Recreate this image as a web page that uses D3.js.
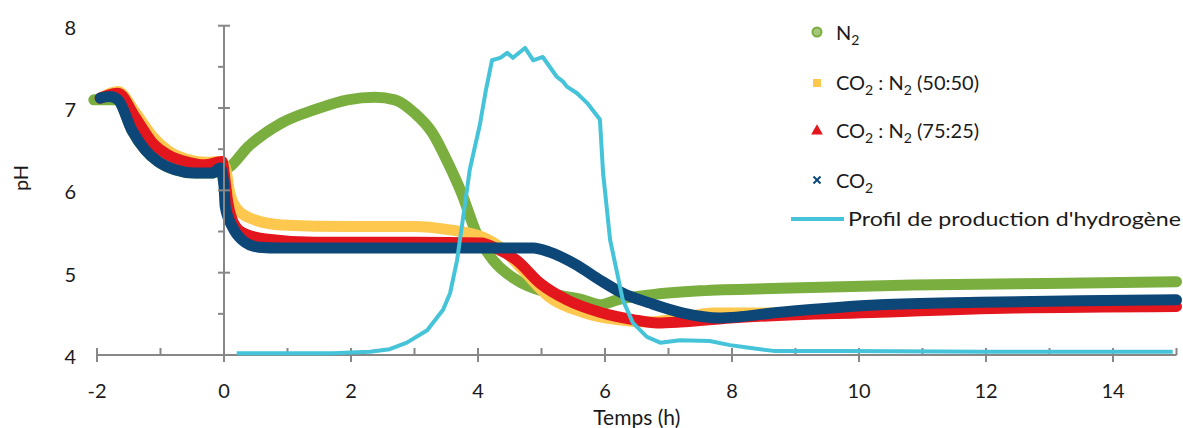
<!DOCTYPE html>
<html><head><meta charset="utf-8">
<script src="https://cdn.jsdelivr.net/npm/d3@7"></script>
<style>
html,body{margin:0;padding:0;background:#fff;}
svg{display:block;font-family:Lato,"Open Sans",sans-serif;}
</style></head>
<body>
<svg id="chart" width="1183" height="428"></svg>
<script>
// ---------- data ----------
const xTickLabels = [-2, 0, 2, 4, 6, 8, 10, 12, 14];
const yTickLabels = [4, 5, 6, 7, 8];

const n2 = [[-2.05,7.10],[-1.9,7.10],[-1.75,7.10],[-1.67,7.10],[-1.45,6.73],[-1.24,6.49],[-1.04,6.35],[-0.77,6.25],[-0.46,6.21],[-0.19,6.21],[-0.02,6.25],
 [0.06,6.27],[0.38,6.53],[0.91,6.82],[1.43,6.98],[1.95,7.10],[2.38,7.13],[2.69,7.10],[3.0,6.94],[3.28,6.70],[3.53,6.33],[3.75,5.95],[3.98,5.47],[4.24,5.15],[4.61,4.91],[5.13,4.75],[5.65,4.67],[5.92,4.61],[6.19,4.67],[6.71,4.73],[7.5,4.78],[8.76,4.81],[10.85,4.85],[12.96,4.87],[15.0,4.89]];

const co2n2_5050 = [[-1.95,7.12],[-1.67,7.20],[-1.4,6.95],[-1.13,6.66],[-0.88,6.48],[-0.6,6.38],[-0.3,6.34],[-0.05,6.35],[0.02,6.28],[0.09,5.97],[0.22,5.76],[0.49,5.64],[0.91,5.58],[1.95,5.56],[3.0,5.56],[3.56,5.52],[3.8,5.49],[4.08,5.43],[4.35,5.31],[4.71,5.03],[5.13,4.70],[5.65,4.52],[6.19,4.43],[6.71,4.40],[7.2,4.45],[7.7,4.51],[8.2,4.51],[8.76,4.51],[10.33,4.60],[11.9,4.63],[13.48,4.65],[15.0,4.66]];

const co2n2_7525 = [[-1.95,7.12],[-1.67,7.18],[-1.4,6.89],[-1.13,6.58],[-0.88,6.43],[-0.61,6.35],[-0.3,6.31],[-0.03,6.35],[0.02,6.10],[0.06,5.85],[0.13,5.64],[0.28,5.49],[0.65,5.41],[1.43,5.37],[3.0,5.37],[4.06,5.36],[4.24,5.31],[4.61,5.15],[4.98,4.87],[5.40,4.67],[5.92,4.52],[6.44,4.43],[6.82,4.39],[7.18,4.40],[7.97,4.45],[10.33,4.52],[12.43,4.57],[15.0,4.59]];

const co2 = [[-1.95,7.12],[-1.8,7.14],[-1.67,7.10],[-1.45,6.73],[-1.24,6.49],[-1.04,6.35],[-0.77,6.25],[-0.46,6.21],[-0.19,6.21],[-0.06,6.27],[0.0,6.05],[0.02,5.80],[0.13,5.56],[0.28,5.40],[0.54,5.31],[0.91,5.30],[1.95,5.30],[3.56,5.30],[4.87,5.30],[5.13,5.25],[5.56,5.09],[5.92,4.91],[6.28,4.75],[6.71,4.63],[7.23,4.51],[7.81,4.45],[8.76,4.52],[10.33,4.61],[11.9,4.64],[13.48,4.66],[15.0,4.67]];

const h2 = [[0.2,4.02],[1.0,4.02],[1.72,4.02],[2.0,4.03],[2.3,4.04],[2.61,4.07],[2.88,4.15],[3.2,4.30],[3.45,4.55],[3.56,4.75],[3.67,5.15],[3.76,5.64],[3.87,6.25],[4.03,6.80],[4.12,7.2],[4.22,7.58],[4.35,7.61],[4.46,7.67],[4.55,7.61],[4.74,7.73],[4.87,7.58],[5.02,7.62],[5.24,7.38],[5.34,7.32],[5.4,7.26],[5.56,7.18],[5.72,7.06],[5.92,6.86],[5.97,6.21],[6.08,5.40],[6.19,5.0],[6.28,4.67],[6.44,4.39],[6.66,4.22],[6.87,4.15],[7.18,4.18],[7.65,4.17],[7.97,4.12],[8.24,4.09],[8.65,4.05],[9.81,4.05],[12.0,4.04],[14.94,4.04]];

const legendLabels = ["N2", "CO2 : N2 (50:50)", "CO2 : N2 (75:25)", "CO2", "Profil de production d'hydrogène"];

// ---------- styles ----------
const C = {green:"#7aae3e", yellow:"#fec74e", red:"#e3151d", navy:"#0c4778", cyan:"#45c3d8", axis:"#878787", text:"#1a1a1a"};

const svg = d3.select("#chart");
const x = d3.scaleLinear().domain([-2, 15]).range([97, 1176.5]);
const y = d3.scaleLinear().domain([4, 8]).range([355, 25.7]);

// ---------- series ----------
const thick = d3.line().x(d => x(d[0])).y(d => y(d[1])).curve(d3.curveMonotoneX);
const thin = d3.line().x(d => x(d[0])).y(d => y(d[1])).curve(d3.curveLinear);

const gSeries = svg.append("g");
[[n2, C.green], [co2n2_5050, C.yellow], [co2n2_7525, C.red], [co2, C.navy]].forEach(([data, col]) => {
  gSeries.append("path").attr("d", thick(data)).attr("fill", "none")
    .attr("stroke", col).attr("stroke-width", 11).attr("stroke-linecap", "round").attr("stroke-linejoin", "round");
});

// ---------- axes ----------
const gAx = svg.append("g").attr("stroke", C.axis).attr("stroke-width", 2);
gAx.append("line").attr("x1", x(-2)).attr("x2", x(15)).attr("y1", y(4)).attr("y2", y(4));
d3.range(-2, 16, 1).forEach(v => {
  const major = v % 2 === 0;
  gAx.append("line").attr("x1", x(v)).attr("x2", x(v)).attr("y1", y(4) - 7).attr("y2", major ? y(4) + 7 : y(4));
});
gAx.append("line").attr("x1", x(0)).attr("x2", x(0)).attr("y1", y(8)).attr("y2", y(4));
d3.range(4, 8.01, 0.5).forEach(v => {
  const major = Math.abs(v - Math.round(v)) < 1e-6;
  gAx.append("line").attr("y1", y(v)).attr("y2", y(v)).attr("x1", x(0) - 6).attr("x2", major ? x(0) + 6 : x(0));
});

// cyan on top
svg.append("path").attr("d", thin(h2)).attr("fill", "none").attr("stroke", C.cyan)
  .attr("stroke-width", 4).attr("stroke-linejoin", "round");

// tick labels
svg.append("g").selectAll("text").data(xTickLabels).join("text")
  .attr("x", d => x(d)).attr("y", 390).attr("text-anchor", "middle").attr("dominant-baseline", "central")
  .attr("font-size", 20).attr("fill", C.text).text(d => d);
svg.append("g").selectAll("text").data(yTickLabels).join("text")
  .attr("x", 76).attr("y", d => y(d) + 1).attr("text-anchor", "end").attr("dominant-baseline", "central")
  .attr("font-size", 20).attr("fill", C.text).text(d => d);

// axis titles
svg.append("text").attr("x", (x(-2) + x(15)) / 2).attr("y", 416).attr("text-anchor", "middle").attr("dominant-baseline", "central")
  .attr("font-size", 21).attr("fill", C.text).text("Temps (h)");
svg.append("text").attr("transform", "translate(20,178) rotate(-90)").attr("text-anchor", "middle").attr("dominant-baseline", "central")
  .attr("font-size", 20).attr("fill", C.text).text("pH");

// ---------- legend ----------
const leg = svg.append("g");
function subText(sel, str) {
  const parts = str.split(/(2)/).filter(p => p.length);
  let prevLetter = false, shifted = false;
  parts.forEach(p => {
    if (p === "2" && prevLetter) {
      sel.append("tspan").attr("font-size", 14).attr("dy", 5).text("2");
      shifted = true;
    } else {
      const ts = sel.append("tspan").text(p);
      if (shifted) { ts.attr("dy", -5); shifted = false; }
    }
    prevLetter = /[A-Z]$/.test(p);
  });
}
const legY = [33, 83, 131, 181];
legY.forEach((ly, i) => {
  const mx = 817;
  if (i === 0) leg.append("circle").attr("cx", mx).attr("cy", ly - 1).attr("r", 4.5).attr("fill", "#a5c77a").attr("stroke", C.green).attr("stroke-width", 2);
  if (i === 1) leg.append("rect").attr("x", mx - 4).attr("y", ly - 4).attr("width", 8).attr("height", 8).attr("fill", C.yellow);
  if (i === 2) leg.append("path").attr("d", d3.symbol(d3.symbolTriangle, 60)()).attr("transform", `translate(${mx},${ly})`).attr("fill", C.red);
  if (i === 3) leg.append("path").attr("d", "M-3.5,-3.5L3.5,3.5M-3.5,3.5L3.5,-3.5").attr("transform", `translate(${mx},${ly - 1})`).attr("stroke", C.navy).attr("stroke-width", 2).attr("fill", "none");
  const t = leg.append("text").attr("x", 836).attr("y", ly + 7).attr("font-size", 20).attr("fill", C.text);
  subText(t, legendLabels[i]);
});
leg.append("line").attr("x1", 791).attr("x2", 844).attr("y1", 219).attr("y2", 219).attr("stroke", C.cyan).attr("stroke-width", 4);
leg.append("text").attr("x", 848).attr("y", 226).attr("font-size", 20).attr("fill", C.text)
  .attr("textLength", 333).attr("lengthAdjust", "spacingAndGlyphs").text(legendLabels[4]);
</script>
</body></html>
